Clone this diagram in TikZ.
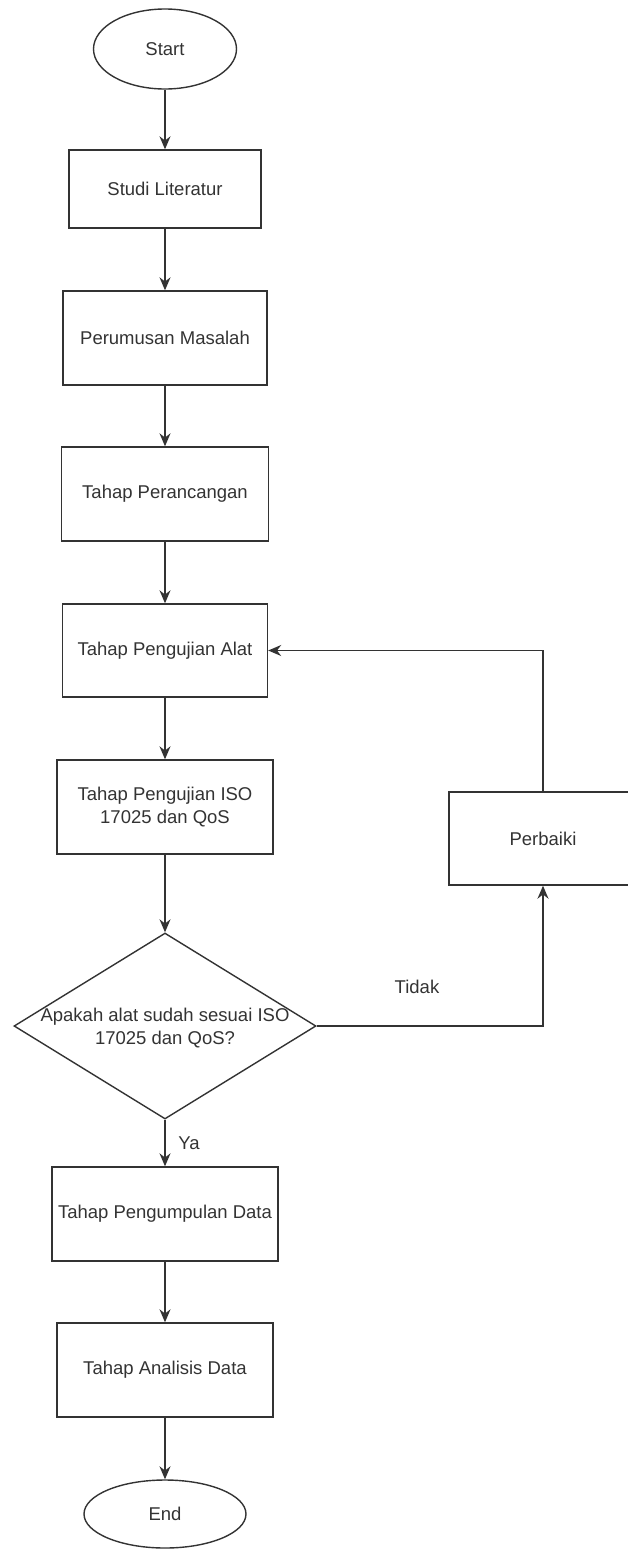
\documentclass[tikz,border=0pt]{standalone}
\usepackage{fontspec}
\setmainfont{Liberation Sans}
\usetikzlibrary{shapes.geometric,arrows.meta}
\begin{document}
\begin{tikzpicture}[
            x=1pt, y=-1pt,
            box/.style={rectangle, draw=black!80, line width=1.4pt, minimum height=94pt, inner sep=0pt},
            term/.style={ellipse, draw=black!80, line width=1.4pt, inner sep=0pt},
            decision/.style={diamond, draw=black!80, line width=1.4pt, inner sep=0pt, minimum width=302pt, minimum height=186pt},
            arr/.style={draw=black!80, line width=1.4pt, -{Stealth[length=13pt,width=11pt]}},
            every node/.append style={font=\fontsize{18.5}{23}\selectfont, text=black!80, align=center}
            ]
            \useasboundingbox (0,0) rectangle (628,1550);

            \node[term, minimum width=143pt, minimum height=80pt] (start) at (165,49) {Start};
            \node[box, minimum width=192pt, minimum height=78pt] (studi) at (165,189) {Studi Literatur};
            \node[box, minimum width=204pt] (rumus) at (165,338) {Perumusan Masalah};
            \node[box, minimum width=207pt] (rancang) at (165,494) {Tahap Perancangan};
            \node[box, minimum width=205pt, minimum height=93pt] (alat) at (165,650.5) {Tahap Pengujian Alat};
            \node[box, minimum width=216pt] (iso) at (165,807) {Tahap Pengujian ISO\\17025 dan QoS};
            \node[decision] (cek) at (165,1026) {};
            \node (cektxt) at (165,1028) {Apakah alat sudah sesuai ISO\\17025 dan QoS?};
            \node[box, minimum width=188pt, minimum height=93pt] (perbaiki) at (543,838.5) {Perbaiki};
            \node[box, minimum width=226pt] (kumpul) at (165,1214) {Tahap Pengumpulan Data};
            \node[box, minimum width=216pt] (analisis) at (165,1370) {Tahap Analisis Data};
            \node[term, minimum width=162pt, minimum height=68pt] (end) at (165,1514) {End};

            \node (ya) at (189,1143) {Ya};
            \node (tidak) at (417,987) {Tidak};

            \draw[arr] (start) -- (studi);
            \draw[arr] (studi) -- (rumus);
            \draw[arr] (rumus) -- (rancang);
            \draw[arr] (rancang) -- (alat);
            \draw[arr] (alat) -- (iso);
            \draw[arr] (iso) -- (cek.north);
            \draw[arr] (cek.south) -- (kumpul);
            \draw[arr] (cek.east) -| (perbaiki.south);
            \draw[arr] (perbaiki.north) |- (alat.east);
            \draw[arr] (kumpul) -- (analisis);
            \draw[arr] (analisis) -- (end);

            \end{tikzpicture}
\end{document}
